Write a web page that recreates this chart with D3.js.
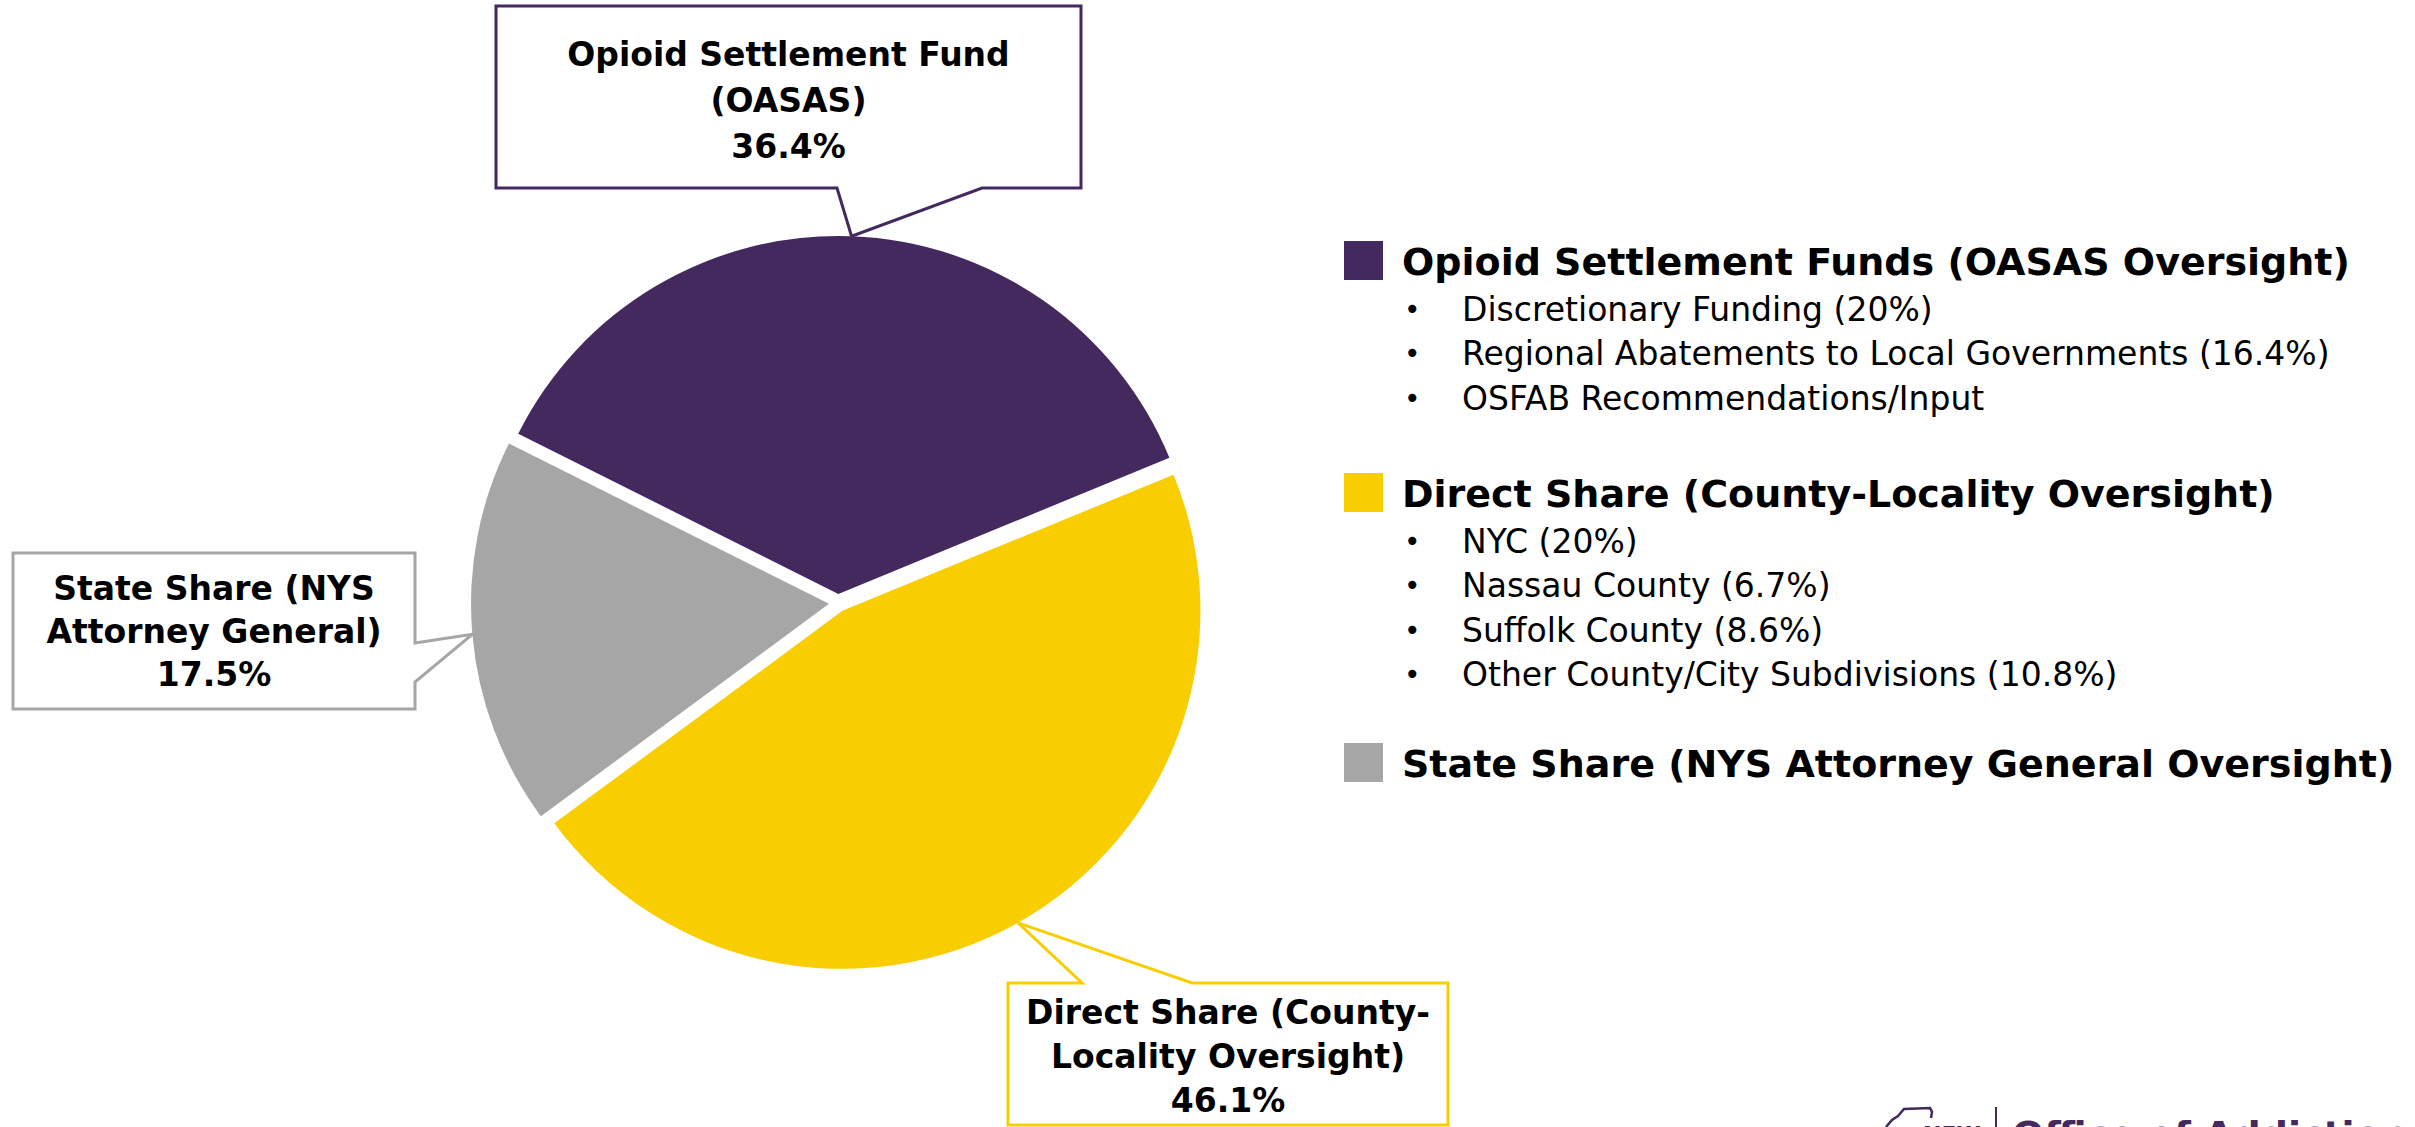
<!DOCTYPE html>
<html>
<head>
<meta charset="utf-8">
<script src="https://cdn.jsdelivr.net/npm/d3@7"></script>
<style>
  body { margin: 0; background: #fff; }
  svg { display: block; }
</style>
</head>
<body>
<div id="chart"></div>
<script>
var svgWidth = 2415;
var svgHeight = 1127;

// data
var categories = ["Opioid Settlement Fund (OASAS)", "Direct Share (County-Locality Oversight)", "State Share (NYS Attorney General)"];
var shares = [36.4, 46.1, 17.5];
var sliceColors = ["#44295E", "#F9CE00", "#A6A6A6"];
var calloutLines = [
  ["Opioid Settlement Fund", "(OASAS)"],
  ["Direct Share (County-", "Locality Oversight)"],
  ["State Share (NYS", "Attorney General)"]
];
var legendHeads = [
  "Opioid Settlement Funds (OASAS Oversight)",
  "Direct Share (County-Locality Oversight)",
  "State Share (NYS Attorney General Oversight)"
];
var legendBullets = [
  ["Discretionary Funding (20%)", "Regional Abatements to Local Governments (16.4%)", "OSFAB Recommendations/Input"],
  ["NYC (20%)", "Nassau County (6.7%)", "Suffolk County (8.6%)", "Other County/City Subdivisions (10.8%)"],
  []
];

var svg = d3.select("#chart")
  .append("svg")
  .attr("width", svgWidth)
  .attr("height", svgHeight);

// pie
var cx = 838, cy = 603, radius = 358, explode = 9;
var start = -63.4 * Math.PI / 180;

var pie = d3.pie().sort(null).startAngle(start).endAngle(start + 2 * Math.PI);
var arcs = pie(shares);
var arc = d3.arc().innerRadius(0).outerRadius(radius);
var edgeArc = d3.arc().innerRadius(radius).outerRadius(radius);

function offset(d) {
  var a = (d.startAngle + d.endAngle) / 2;
  return [explode * Math.sin(a), -explode * Math.cos(a)];
}

var pieGroup = svg.append("g")
  .attr("transform", `translate(${cx}, ${cy})`);

pieGroup.selectAll("path")
  .data(arcs)
  .enter()
  .append("path")
  .attr("d", arc)
  .attr("transform", d => `translate(${offset(d)})`)
  .attr("fill", (d, i) => sliceColors[i]);

// callout boxes (box + pointer base on one side)
var boxes = [
  { x: 496, y: 6, w: 585, h: 182, side: "bottom", p0: 837, p1: 982, mid: 100, lh: 46 },
  { x: 1008, y: 983, w: 440, h: 142, side: "top", p0: 1082, p1: 1192, mid: 1056, lh: 44 },
  { x: 13, y: 553, w: 402, h: 156, side: "right", p0: 643, p1: 682, mid: 631, lh: 43 }
];

function calloutPath(b, tip) {
  var x0 = b.x, y0 = b.y, x1 = b.x + b.w, y1 = b.y + b.h;
  var p = d3.path();
  p.moveTo(x0, y0);
  if (b.side === "top") {
    p.lineTo(b.p0, y0); p.lineTo(tip[0], tip[1]); p.lineTo(b.p1, y0);
  }
  p.lineTo(x1, y0);
  if (b.side === "right") {
    p.lineTo(x1, b.p0); p.lineTo(tip[0], tip[1]); p.lineTo(x1, b.p1);
  }
  p.lineTo(x1, y1);
  if (b.side === "bottom") {
    p.lineTo(b.p1, y1); p.lineTo(tip[0], tip[1]); p.lineTo(b.p0, y1);
  }
  p.lineTo(x0, y1);
  p.closePath();
  return p.toString();
}

var callouts = svg.append("g");
arcs.forEach(function(d, i) {
  var b = boxes[i];
  var o = offset(d);
  var e = edgeArc.centroid(d);
  var tip = [cx + o[0] + e[0], cy + o[1] + e[1]];
  callouts.append("path")
    .attr("d", calloutPath(b, tip))
    .attr("fill", "#fff")
    .attr("stroke", sliceColors[i])
    .attr("stroke-width", 3)
    .attr("stroke-linejoin", "miter");

  var lines = calloutLines[i].concat([d3.format(".1f")(shares[i]) + "%"]);
  callouts.selectAll(null)
    .data(lines)
    .enter()
    .append("text")
    .attr("x", b.x + b.w / 2)
    .attr("y", (t, j) => b.mid + (j - 1) * b.lh)
    .attr("text-anchor", "middle")
    .attr("dominant-baseline", "central")
    .attr("font-family", "DejaVu Sans, Verdana, sans-serif")
    .attr("font-weight", "bold")
    .attr("font-size", "33px")
    .attr("fill", "#000")
    .text(t => t);
});

// legend
var legendTops = [241, 473, 743];
var legend = svg.append("g");
legendHeads.forEach(function(h, i) {
  var y0 = legendTops[i];
  legend.append("rect")
    .attr("x", 1344).attr("y", y0)
    .attr("width", 39).attr("height", 39)
    .attr("fill", sliceColors[i]);
  legend.append("text")
    .attr("x", 1402).attr("y", y0 + 21)
    .attr("dominant-baseline", "central")
    .attr("font-family", "DejaVu Sans, Verdana, sans-serif")
    .attr("font-weight", "bold")
    .attr("font-size", "38px")
    .attr("fill", "#000")
    .text(h);
  legendBullets[i].forEach(function(t, j) {
    var y = y0 + 68 + j * 44.5;
    legend.append("text")
      .attr("x", 1404).attr("y", y)
      .attr("dominant-baseline", "central")
      .attr("font-family", "DejaVu Sans, Verdana, sans-serif")
      .attr("font-size", "28px")
      .attr("fill", "#000")
      .text("\u2022");
    legend.append("text")
      .attr("x", 1462).attr("y", y)
      .attr("dominant-baseline", "central")
      .attr("font-family", "DejaVu Sans, Verdana, sans-serif")
      .attr("font-size", "33px")
      .attr("fill", "#000")
      .text(t);
  });
});

// logo at bottom right (cut off by page edge, as in the slide)
var logo = svg.append("g").attr("fill", "#44295E");
logo.append("path")
  .attr("d", "M1886,1127 L1892,1120 L1898,1116 L1904,1109 L1930,1108 L1932,1112 L1931,1118")
  .attr("fill", "none")
  .attr("stroke", "#44295E")
  .attr("stroke-width", 2.5);
logo.append("text")
  .attr("x", 1923).attr("y", 1142)
  .attr("font-family", "DejaVu Sans, Verdana, sans-serif")
  .attr("font-weight", "bold")
  .attr("font-size", "22px")
  .text("NEW");
logo.append("line")
  .attr("x1", 1996).attr("x2", 1996)
  .attr("y1", 1107).attr("y2", 1127)
  .attr("stroke", "#44295E")
  .attr("stroke-width", 2);
logo.append("text")
  .attr("x", 2012).attr("y", 1148)
  .attr("font-family", "DejaVu Sans, Verdana, sans-serif")
  .attr("font-weight", "bold")
  .attr("font-size", "38px")
  .text("Office of Addiction");
</script>
</body>
</html>
